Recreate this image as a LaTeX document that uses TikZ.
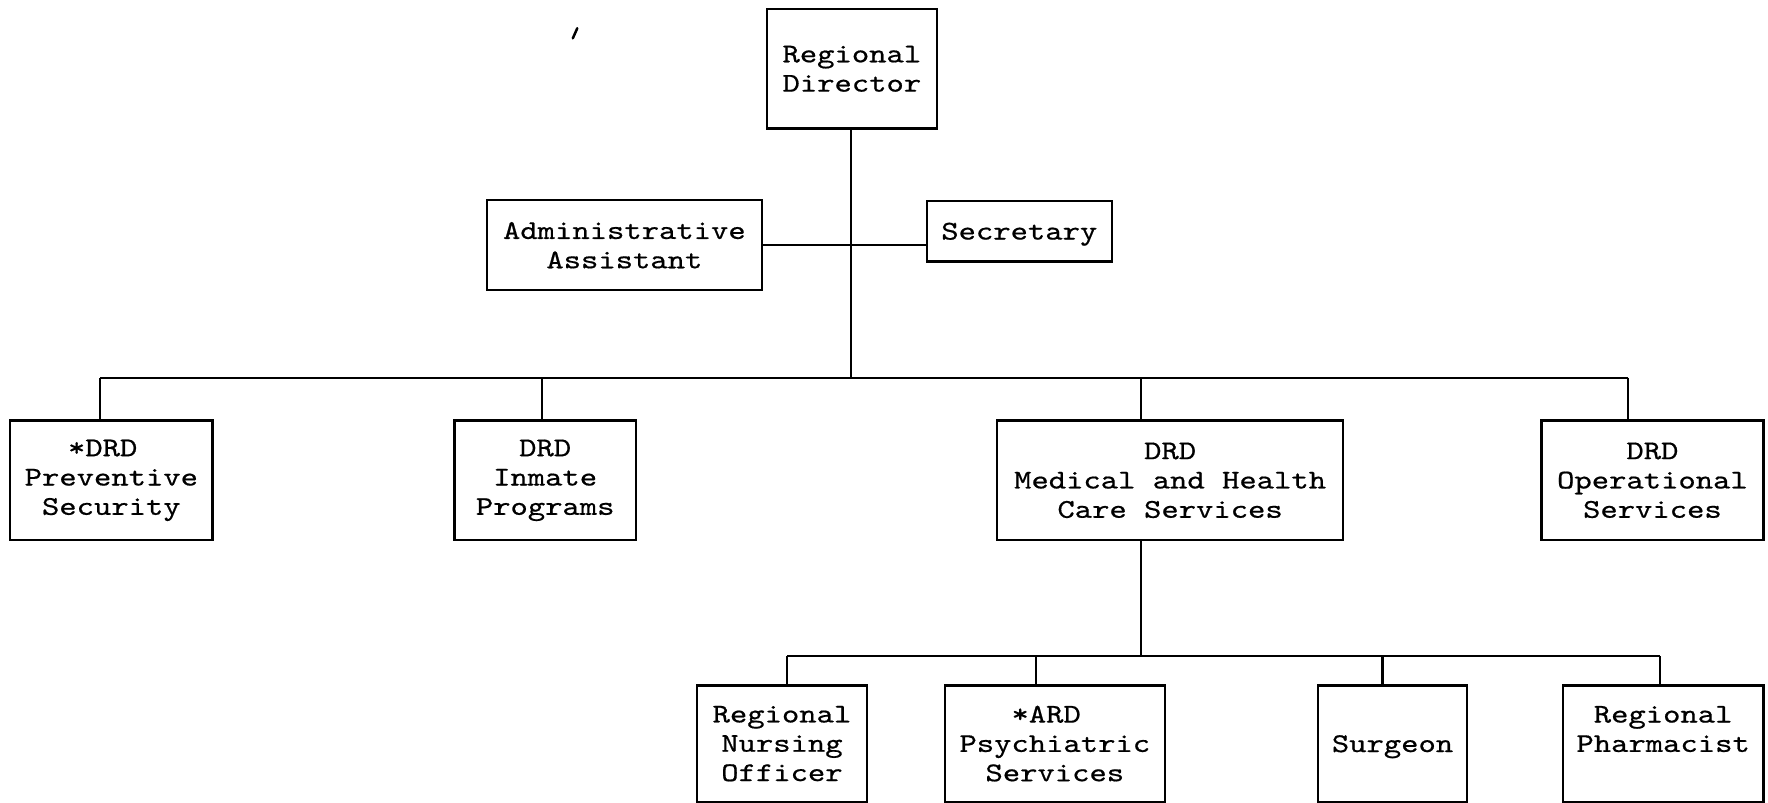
\documentclass[tikz,border=0pt]{standalone}
\usepackage{fontspec}
\newfontfamily\typewriter{lmmono10-regular.otf}[FakeStretch=1.22,FakeBold=0.6]
\begin{document}
\begin{tikzpicture}[x=0.5pt,y=-0.5pt,
  orgbox/.style 2 args={draw, line width=1pt, inner sep=0pt, align=center,
    minimum width=#1*0.5pt, minimum height=#2*0.5pt,
    font=\typewriter\fontsize{12}{13}\selectfont},
  oneline/.style={text depth=0pt},
  link/.style={line width=1pt}]
\useasboundingbox (0,0) rectangle (1568,712);

% top level
\node[orgbox={151}{106}] (rd) at (755.5,61) {Regional\\Director};
\node[orgbox={243.5}{80}] (aa) at (553.75,217.5) {Administrative\\Assistant};
\node[orgbox={164}{54}, oneline] (sec) at (904,205) {Secretary};

% deputy regional directors
\node[orgbox={179.5}{106}] (ps) at (98.75,426) {*DRD~~\\Preventive\\Security};
\node[orgbox={161}{106}] (ip) at (483.5,426) {DRD\\Inmate\\Programs};
\node[orgbox={306.5}{106}] (mh) at (1037.75,426) {DRD\\Medical and Health\\Care Services};
\node[orgbox={197}{106}] (os) at (1465.5,426) {DRD\\Operational\\Services};

% medical staff
\node[orgbox={151}{103}] (rno) at (693.5,659.5) {Regional\\Nursing\\Officer};
\node[orgbox={195}{103}] (ard) at (935.5,659.5) {*ARD~~\\Psychiatric\\Services};
\node[orgbox={132}{103}, oneline] (sur) at (1235,659.5) {Surgeon};
\node[orgbox={178}{103}] (rph) at (1475,659.5) {Regional\\Pharmacist\\~};

% junction points
\coordinate (bus) at (754.5,335);
\coordinate (cross) at (754.5,217);
\coordinate (dps) at (89,335);
\coordinate (dip) at (481,335);
\coordinate (dmh) at (1012,335);
\coordinate (dos) at (1444,335);
\coordinate (b2) at (1012,582);
\coordinate (drno) at (698,582);
\coordinate (dard) at (919,582);
\coordinate (dsur) at (1226,582);
\coordinate (drph) at (1472,582);

% connectors, upper part
\draw[link] (rd.south -| bus) -- (bus);
\draw[link] (aa.east |- cross) -- (sec.west |- cross);
\draw[link] (dps) -- (dos);
\draw[link] (dps) -- (dps |- ps.north);
\draw[link] (dip) -- (dip |- ip.north);
\draw[link] (dmh) -- (dmh |- mh.north);
\draw[link] (dos) -- (dos |- os.north);

% connectors, medical branch
\draw[link] (b2 |- mh.south) -- (b2);
\draw[link] (drno) -- (drph);
\draw[link] (drno) -- (drno |- rno.north);
\draw[link] (dard) -- (dard |- ard.north);
\draw[link] (dsur) -- (dsur |- sur.north);
\draw[link] (drph) -- (drph |- rph.north);

% stray pen stroke
\draw[line width=1.1pt, line cap=round] (508,34) -- (512,25);
\end{tikzpicture}
\end{document}
